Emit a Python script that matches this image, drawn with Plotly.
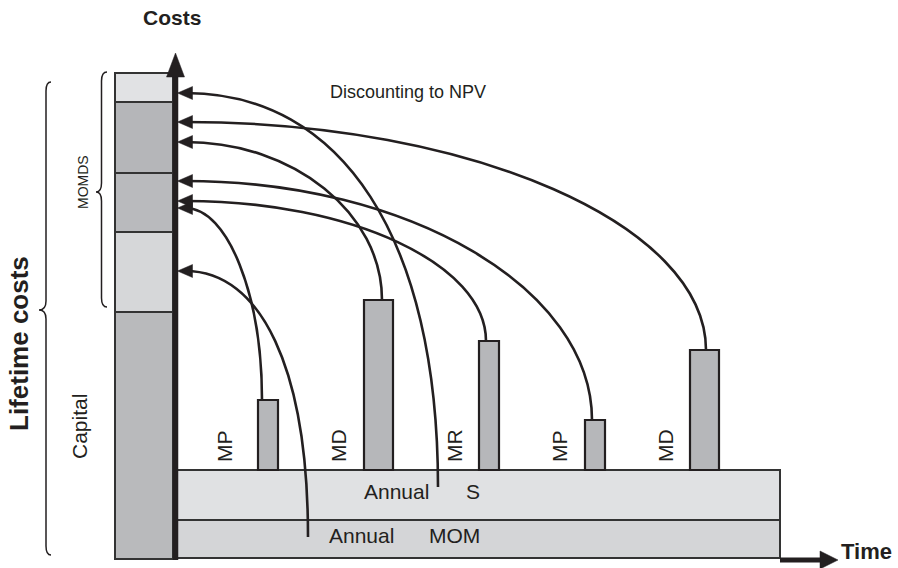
import plotly.graph_objects as go

# ---------------- data (diagram units: x = time, y = cost level, drawn on a fixed canvas scale) -------------
column_labels = ["Capital", "MOM", "MP/MR", "MD", "S"]
column_edges = [559, 312, 232, 173, 102, 73]          # stacked NPV column boundaries
column_colors = ["#b9babc", "#d6d7d9", "#b9babd", "#b5b6b9", "#e1e2e4"]

event_labels = ["MP", "MD", "MR", "MP", "MD"]
event_left = [258, 364, 479, 585, 690]
event_right = [278, 393, 499, 605, 719]
event_top = [400, 300, 341, 420, 350]
event_link_x = [262, 382, 486, 592, 706]              # where the discount curve leaves each bar
event_label_x = [224, 338, 454, 559, 665]
event_npv_y = [208, 142, 201, 181, 122]               # where each event lands after discounting

annual_labels = ["S", "MOM"]
annual_top = [470, 520]
annual_bottom = [520, 558]
annual_curve_start = [(438, 487), (308, 537)]
annual_npv_y = [93, 271]

# ---------------- styling / layout constants ----------------
INK = "#231f20"
FONT = "Liberation Sans, Arial, Helvetica, sans-serif"
col_l, col_r = 115, 173
axis_x = 175.5
band_l, band_r = 177, 780
event_base = 470
tip_x = 177.5

fig = go.Figure()

# stacked column
for i in range(len(column_labels)):
    lo, hi = column_edges[i], column_edges[i + 1]
    fig.add_trace(go.Bar(x=[(col_l + col_r) / 2], y=[hi - lo], base=[lo], width=[col_r - col_l],
                         marker=dict(color=column_colors[i], line=dict(color="#333333", width=2)),
                         hoverinfo="skip", showlegend=False))

# annual bands (horizontal bars)
band_colors = ["#e0e1e3", "#d4d5d7"]
for i in range(len(annual_labels)):
    fig.add_trace(go.Bar(orientation="h", y=[(annual_top[i] + annual_bottom[i]) / 2],
                         x=[band_r - band_l], base=[band_l],
                         width=[annual_bottom[i] - annual_top[i]],
                         marker=dict(color=band_colors[i], line=dict(color="#333333", width=2)),
                         hoverinfo="skip", showlegend=False))

# event bars
fig.add_trace(go.Bar(x=[(l + r) / 2 for l, r in zip(event_left, event_right)],
                     y=[t - event_base for t in event_top], base=[event_base] * len(event_top),
                     width=[r - l for l, r in zip(event_left, event_right)],
                     marker=dict(color="#b6b7ba", line=dict(color=INK, width=2.2)),
                     hoverinfo="skip", showlegend=False))

shapes = []

def curve(x0, y0, ya, a=0.55, b=0.55):
    xa = tip_x + 8
    p = (f"M {x0},{y0} C {x0},{y0 - a * (y0 - ya)} {xa + b * (x0 - xa)},{ya} {xa},{ya}")
    shapes.append(dict(type="path", path=p, xref="x", yref="y",
                       line=dict(color=INK, width=2.6)))
    shapes.append(dict(type="path", xref="x", yref="y",
                       path=f"M {tip_x},{ya} L {tip_x + 15},{ya - 6.5} L {tip_x + 15},{ya + 6.5} Z",
                       fillcolor=INK, line=dict(color=INK, width=0.5)))

for lx, t, ya in zip(event_link_x, event_top, event_npv_y):
    curve(lx, t, ya)
for (x0, y0), ya in zip(annual_curve_start, annual_npv_y):
    curve(x0, y0, ya, a=0.63, b=0.62)

# vertical cost axis
shapes.append(dict(type="line", x0=axis_x, x1=axis_x, y0=560, y1=74, xref="x", yref="y",
                   line=dict(color=INK, width=5.5)))
shapes.append(dict(type="path", xref="x", yref="y",
                   path=f"M {axis_x},53 L {axis_x - 9},77 L {axis_x + 9},77 Z",
                   fillcolor=INK, line=dict(color=INK, width=0.5)))
# horizontal time axis
shapes.append(dict(type="line", x0=band_r, x1=822, y0=560, y1=560, xref="x", yref="y",
                   line=dict(color=INK, width=5)))
shapes.append(dict(type="path", xref="x", yref="y",
                   path="M 838,560 L 820,551 L 820,569 Z",
                   fillcolor=INK, line=dict(color=INK, width=0.5)))

def brace(xe, xs, xt, ytop, ymid, ybot, r=9):
    p = (f"M {xe},{ytop} Q {xs},{ytop} {xs},{ytop + r} L {xs},{ymid - r} "
         f"Q {xs},{ymid} {xt},{ymid} Q {xs},{ymid} {xs},{ymid + r} L {xs},{ybot - r} "
         f"Q {xs},{ybot} {xe},{ybot}")
    shapes.append(dict(type="path", path=p, xref="x", yref="y",
                       line=dict(color=INK, width=1.5)))

brace(51, 46, 39, 82, 310, 555)
brace(107, 101.5, 96, 72, 192, 307)

annotations = []

def txt(x, y, s, size, bold=False, angle=0, xanchor="center"):
    annotations.append(dict(x=x, y=y, xref="x", yref="y", text=f"<b>{s}</b>" if bold else s,
                            showarrow=False, textangle=angle, xanchor=xanchor, yanchor="middle",
                            font=dict(family=FONT, size=size, color=INK)))

txt(172, 17, "Costs", 21, bold=True)
txt(328, 92, "Discounting to NPV", 18, xanchor="left")
txt(839, 551, "Time", 22, bold=True, xanchor="left")
txt(19, 344, "Lifetime costs", 26, bold=True, angle=-90)
txt(83, 182, "MOMDS", 14, angle=-90)
txt(79, 427, "Capital", 21, angle=-90)
for lab, lx in zip(event_labels, event_label_x):
    txt(lx, 446, lab, 21, angle=-90)
txt(362, 491, "Annual", 21, xanchor="left")
txt(464, 491, annual_labels[0], 21, xanchor="left")
txt(327, 535, "Annual", 21, xanchor="left")
txt(427, 535, annual_labels[1], 21, xanchor="left")

fig.update_layout(
    width=898, height=568, margin=dict(l=0, r=0, t=0, b=0),
    paper_bgcolor="white", plot_bgcolor="white", barmode="overlay", showlegend=False,
    hovermode=False,
    xaxis=dict(range=[0, 898], visible=False, fixedrange=True),
    yaxis=dict(range=[568, 0], visible=False, fixedrange=True),
    shapes=shapes, annotations=annotations,
)
fig.write_html("out.html", config={"displayModeBar": False, "staticPlot": True},
               post_script="document.body.style.margin='0';document.body.style.overflow='hidden';")
